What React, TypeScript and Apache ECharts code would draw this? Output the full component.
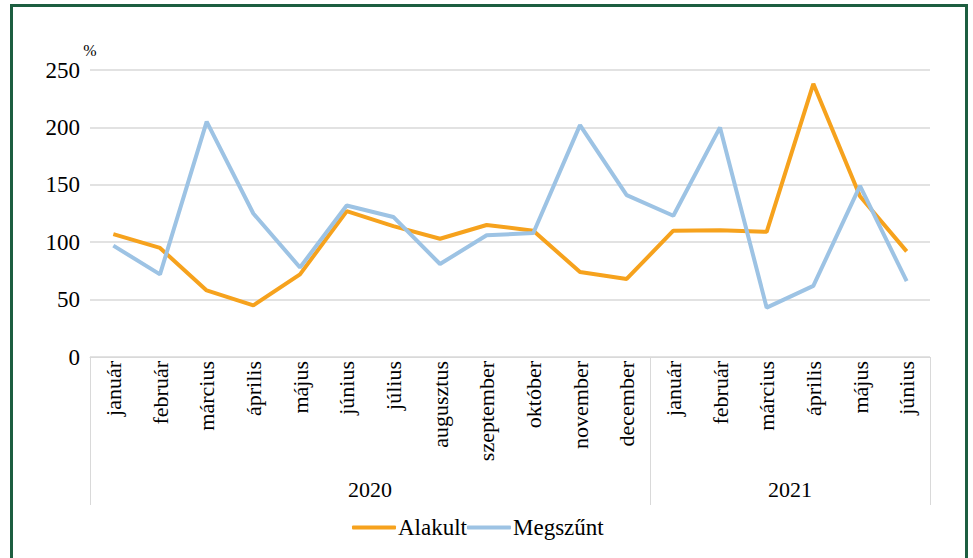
import React, { useEffect, useRef } from "react";
import * as echarts from "echarts";

const months = [
  "január", "február", "március", "április", "május", "június", "július",
  "augusztus", "szeptember", "október", "november", "december",
  "január", "február", "március", "április", "május", "június",
];
const years = ["2020", "2021"];
const yearStarts = [0, 12, 18];
const yearCenters = [6, 15];
const alakult = [107, 95, 58, 45, 72, 127, 114, 103, 115, 110, 74, 68, 110, 110.5, 109, 238, 140, 92];
const megszunt = [97, 72, 205, 125, 78, 132, 122, 81, 106, 108, 202, 141, 123, 200, 43, 62, 149, 66];

const FONT = "Liberation Serif";

export default function App() {
  const ref = useRef<HTMLDivElement>(null);
  useEffect(() => {
    if (!ref.current) return;
    const chart = echarts.init(ref.current, undefined, { renderer: "svg" });
    chart.setOption({
      animation: false,
      textStyle: { fontFamily: FONT },
      grid: { left: 90, right: 43, top: 70, bottom: 201 },
      legend: {
        bottom: 14,
        left: 347,
        itemGap: 0,
        itemWidth: 44,
        itemHeight: 4,
        icon: "roundRect",
        textStyle: { fontFamily: FONT, fontSize: 23, color: "#000", padding: [0, 0, 0, -3] },
        data: ["Alakult", "Megszűnt"],
      },
      xAxis: [
        {
          type: "category",
          data: months,
          boundaryGap: true,
          axisLine: { show: true, lineStyle: { color: "#d9d9d9", width: 1 } },
          axisTick: { show: false },
          axisLabel: {
            rotate: 90,
            interval: 0,
            margin: 4,
            fontFamily: FONT,
            fontSize: 22,
            color: "#000",
          },
        },
        {
          type: "value",
          position: "bottom",
          offset: 148,
          min: 0,
          max: 18,
          axisLine: { show: false },
          splitLine: { show: false },
          axisTick: {
            show: true,
            inside: true,
            length: 148,
            customValues: yearStarts,
            lineStyle: { color: "#d9d9d9", width: 1 },
          },
          axisLabel: {
            inside: true,
            margin: 5,
            customValues: yearCenters,
            formatter: (v: number) => years[yearCenters.indexOf(v)] ?? "",
            fontFamily: FONT,
            fontSize: 22,
            color: "#000",
          },
        },
      ],
      yAxis: {
        type: "value",
        min: 0,
        max: 250,
        interval: 50,
        name: "%",
        nameGap: 12,
        nameTextStyle: { fontFamily: FONT, fontSize: 16, color: "#000", align: "center" },
        axisLine: { show: false },
        axisTick: { show: false },
        axisLabel: { margin: 10, fontFamily: FONT, fontSize: 23, color: "#000" },
        splitLine: { lineStyle: { color: "#d9d9d9", width: 1.5 } },
      },
      series: [
        {
          name: "Alakult",
          type: "line",
          data: alakult,
          symbol: "none",
          lineStyle: { color: "#F6A21D", width: 4 },
          itemStyle: { color: "#F6A21D" },
        },
        {
          name: "Megszűnt",
          type: "line",
          data: megszunt,
          symbol: "none",
          lineStyle: { color: "#9DC3E4", width: 4 },
          itemStyle: { color: "#9DC3E4" },
        },
      ],
    });
    return () => chart.dispose();
  }, []);
  return (
    <div style={{ position: "fixed", left: 0, top: 0, width: 973, height: 558, background: "#fff", overflow: "hidden" }}>
      <div
        style={{
          position: "absolute",
          left: 10,
          top: 4,
          width: 952,
          height: 600,
          border: "3px solid #1d5e40",
          boxSizing: "content-box",
        }}
      />
      <div ref={ref} style={{ position: "absolute", left: 0, top: 0, width: 973, height: 558 }} />
    </div>
  );
}
